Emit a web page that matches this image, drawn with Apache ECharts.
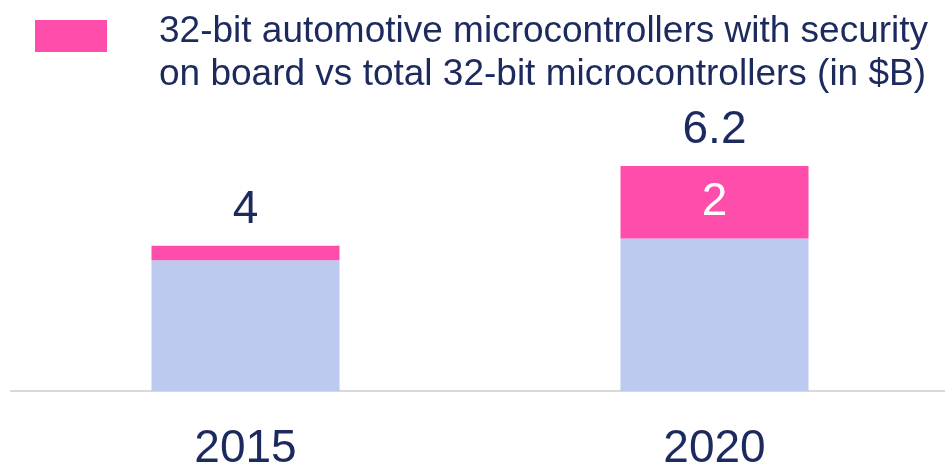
<!DOCTYPE html>
<html>
<head>
<meta charset="utf-8">
<script src="https://cdn.jsdelivr.net/npm/echarts@6/dist/echarts.min.js"></script>
<style>
html,body{margin:0;padding:0;background:#fff;}
#chart{width:945px;height:467px;}
</style>
</head>
<body>
<div id="chart"></div>
<script>
const categories = ['2015', '2020'];
const otherValues = [3.6, 4.2];
const securityValues = [0.4, 2.0];
const totalValues = [4, 6.2];
const securityName = '32-bit automotive microcontrollers with security\non board vs total 32-bit microcontrollers (in $B)';

const navy = '#1c2a5e';
const pink = '#ff4dac';
const blue = '#bccaf0';
const font = '"Liberation Sans", Arial, sans-serif';

const chart = echarts.init(document.getElementById('chart'), null, {renderer: 'canvas'});
chart.setOption({
  animation: false,
  backgroundColor: '#ffffff',
  textStyle: {fontFamily: font},
  legend: {
    data: [securityName],
    left: 30,
    top: -29,
    itemWidth: 72,
    itemHeight: 32,
    selectedMode: false,
    icon: 'rect',
    formatter: function (name) {
      return '{s|}\n' + name.split('\n').map(l => '{t|' + l + '}').join('\n');
    },
    textStyle: {
      color: navy,
      fontSize: 37,
      lineHeight: 43,
      fontFamily: font,
      padding: [0, 0, 0, 47],
      rich: {
        s: {height: 34, lineHeight: 34, fontSize: 10},
        t: {color: navy, fontSize: 37, lineHeight: 43, fontFamily: font}
      }
    }
  },
  grid: {left: 11, width: 938, top: 166, bottom: 76, containLabel: false, outerBoundsMode: 'none'},
  xAxis: {
    type: 'category',
    data: categories,
    axisLine: {show: true, lineStyle: {color: '#d9d9d9', width: 2}},
    axisTick: {show: false},
    axisLabel: {color: navy, fontSize: 46, margin: 35, fontFamily: font}
  },
  yAxis: {
    type: 'value',
    min: 0,
    max: 6.2,
    show: false,
    splitLine: {show: false}
  },
  series: [
    {
      name: 'Other',
      type: 'bar',
      stack: 'total',
      barWidth: 188,
      data: otherValues,
      itemStyle: {color: blue},
      label: {show: false}
    },
    {
      name: securityName,
      type: 'bar',
      stack: 'total',
      barWidth: 188,
      data: securityValues.map(v => ({
        value: v,
        label: {show: v >= 1}
      })),
      itemStyle: {color: pink},
      label: {
        position: 'inside',
        color: '#ffffff',
        fontSize: 46,
        fontFamily: font
      }
    },
    {
      name: 'Total',
      type: 'bar',
      barWidth: 188,
      barGap: '-100%',
      data: totalValues,
      itemStyle: {color: 'rgba(0,0,0,0)'},
      z: 5,
      label: {
        show: true,
        position: 'top',
        distance: 13,
        color: navy,
        fontSize: 46,
        fontFamily: font
      }
    }
  ]
});
</script>
</body>
</html>
